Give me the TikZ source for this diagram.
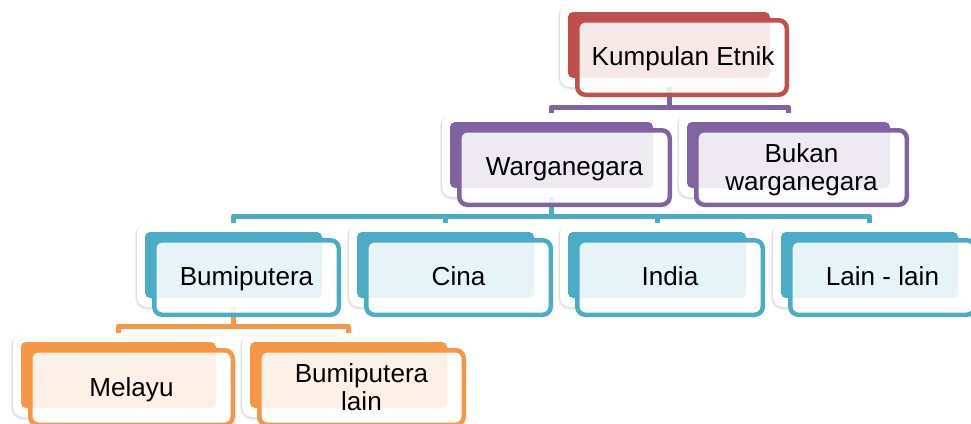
\documentclass[tikz,border=0pt]{standalone}
\usepackage{fontspec}
\setmainfont{Liberation Sans}
\usetikzlibrary{calc}
\pgfdeclarelayer{bg}
\pgfsetlayers{bg,main}
\definecolor{cRed}{RGB}{192,80,77}
\definecolor{cPur}{RGB}{128,100,162}
\definecolor{cTeal}{RGB}{75,172,198}
\definecolor{cOra}{RGB}{247,150,70}
\tikzset{
  backcard/.style={draw=none,rounded corners=5pt,inner sep=0pt,outer sep=0pt,minimum height=66pt},
  frontcard/.style={line width=4.5pt,rounded corners=8pt,fill=white,fill opacity=0.87},
  conn/.style={draw=#1,line width=5pt,line join=round},
  lbl/.style={anchor=base,inner sep=0pt,font=\fontsize{26.1}{28}\selectfont,text=black},
}
% #1 name, #2 cx, #3 cy, #4 width, #5 colour
\newcommand{\mycard}[5]{%
  \fill[black,opacity=0.06,rounded corners=12pt] ({#2-#4/2-10},{#3-33-8}) rectangle ({#2+#4/2+8},{#3+33+12});
  \fill[black,opacity=0.07,rounded corners=11pt] ({#2-#4/2-9},{#3-33-9}) rectangle ({#2+#4/2+8},{#3+33+10.5});
  \fill[white,rounded corners=10pt] ({#2-#4/2-8},{#3-33-9}) rectangle ({#2+#4/2+8},{#3+33+9});
  \node[backcard,fill=#5,minimum width=#4pt] (#1) at (#2,#3) {};
  \draw[frontcard,draw=#5] ({#2-#4/2+9.25},{#3-33+8.25}) rectangle ({#2+#4/2+16.75},{#3+33+16.75});
}
\begin{document}
\begin{tikzpicture}[x=1pt,y=-1pt]
\useasboundingbox (0,0) rectangle (971,423);
\mycard{k}{669}{45}{202}{cRed}
\node[lbl] (tk) at (683,65) {Kumpulan Etnik};
\mycard{wn}{551.5}{155}{203}{cPur}
\node[lbl] (twn) at (564.5,175) {Warganegara};
\mycard{bw}{788.5}{155}{203}{cPur}
\node[lbl] (tbw) at (801.5,162) {\begin{tabular}[t]{@{}c@{}}Bukan\\warganegara\end{tabular}};
\mycard{bp}{233.5}{265}{177}{cTeal}
\node[lbl] (tbp) at (246.5,285) {Bumiputera};
\mycard{ci}{445.5}{265}{177}{cTeal}
\node[lbl] (tci) at (458.5,285) {Cina};
\mycard{in}{657}{265}{178}{cTeal}
\node[lbl] (tin) at (670,285) {India};
\mycard{ll}{869.5}{265}{177}{cTeal}
\node[lbl] (tll) at (882.5,285) {Lain - lain};
\mycard{ml}{118.5}{375}{195}{cOra}
\node[lbl] (tml) at (131.5,396) {Melayu};
\mycard{bl}{348.5}{375}{197}{cOra}
\node[lbl] (tbl) at (361.5,382) {\begin{tabular}[t]{@{}c@{}}Bumiputera\\lain\end{tabular}};
\coordinate (b1) at (0,107);
\coordinate (b2) at (0,216);
\coordinate (b3) at (0,326);
\begin{pgfonlayer}{bg}
  \draw[conn=cPur] (k) -- (k |- b1) -| (wn);
  \draw[conn=cPur] (k) -- (k |- b1) -| (bw);
  \draw[conn=cTeal] (wn) -- (wn |- b2) -| (bp);
  \draw[conn=cTeal] (wn) -- (wn |- b2) -| (ci);
  \draw[conn=cTeal] (wn) -- (wn |- b2) -| (in);
  \draw[conn=cTeal] (wn) -- (wn |- b2) -| (ll);
  \draw[conn=cOra] (bp) -- (bp |- b3) -| (ml);
  \draw[conn=cOra] (bp) -- (bp |- b3) -| (bl);
\end{pgfonlayer}
\end{tikzpicture}
\end{document}
